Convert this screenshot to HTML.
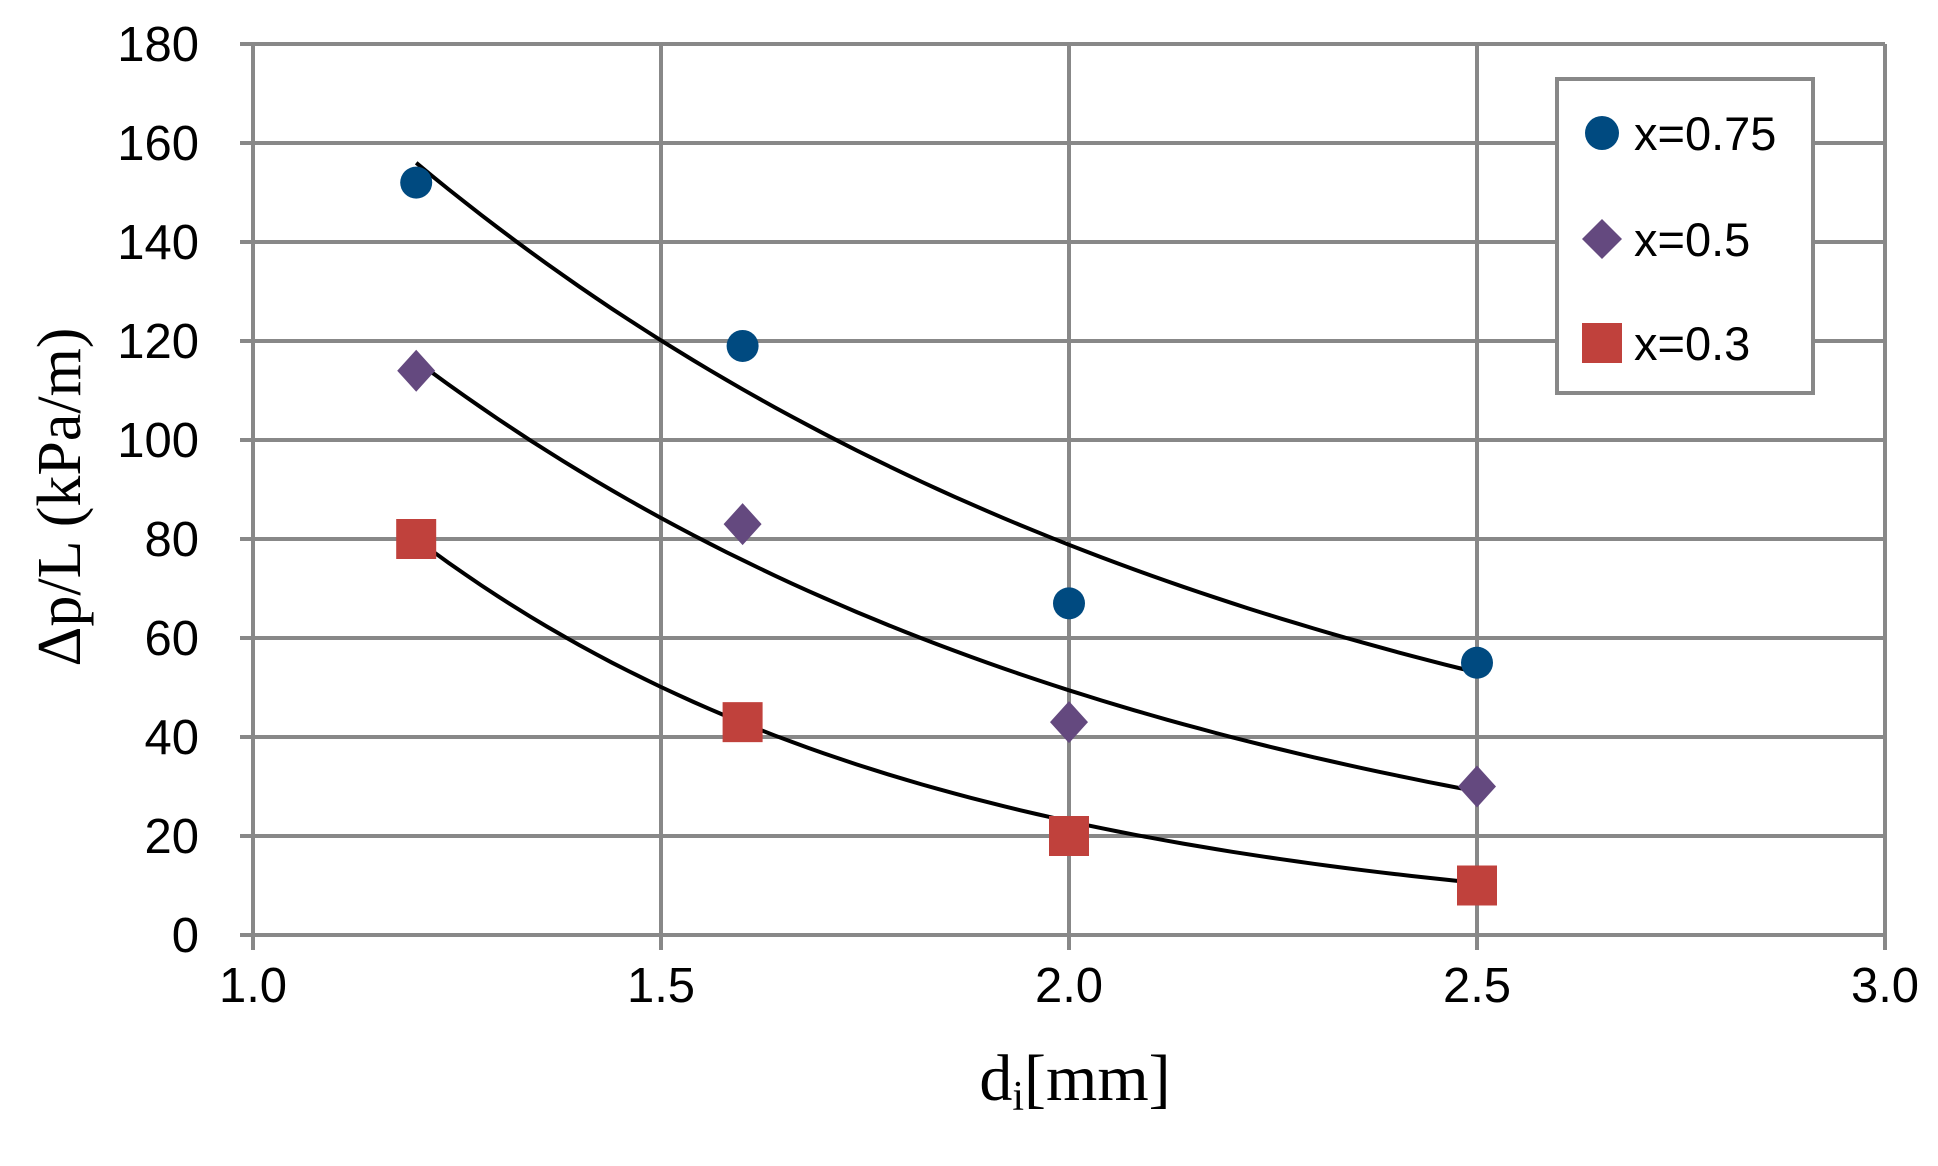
<!DOCTYPE html>
<html><head><style>body{margin:0;background:#fff}</style></head><body>
<svg id="s" width="1938" height="1161" xmlns="http://www.w3.org/2000/svg" font-family="Liberation Sans, sans-serif">
<g id="grid" stroke="#888" stroke-width="4"></g>
<g id="curves" fill="none" stroke="#000" stroke-width="4"></g>
<g id="pts"></g>
<rect x="1557" y="79" width="256" height="314" fill="#fff" stroke="#888" stroke-width="4"/>
<circle cx="1602" cy="133" r="17" fill="#004a80"/>
<polygon points="1602,219 1622,239 1602,259 1582,239" fill="#64497f"/>
<rect x="1582" y="323" width="40" height="40" fill="#c0413c"/>
<g font-size="47" fill="#000">
<text x="1634" y="150">x=0.75</text>
<text x="1634" y="256">x=0.5</text>
<text x="1634" y="360">x=0.3</text>
</g>
<g id="labels" font-size="49" fill="#000"></g>
<text x="1075" y="1100" font-family="Liberation Serif, serif" font-size="66" text-anchor="middle">d<tspan font-size="42" dy="10">i</tspan><tspan dy="-10">[mm]</tspan></text>
<text transform="translate(80,497) rotate(-90)" font-family="Liberation Serif, serif" font-size="62" text-anchor="middle">Δp/L (kPa/m)</text>
</svg>
<script>
const X=v=>253+(v-1)*816, Y=v=>935-v*4.95;
let g=document.getElementById('grid'),L=document.getElementById('labels'),h='',l='';
for(let v=0;v<=180;v+=20){h+=`<line x1="240" x2="1885" y1="${Y(v)}" y2="${Y(v)}"/>`;l+=`<text x="199" y="${Y(v)+17}" text-anchor="end">${v}</text>`;}
for(let v=1;v<=3.001;v+=0.5){h+=`<line x1="${X(v)}" x2="${X(v)}" y1="44" y2="950"/>`;l+=`<text x="${X(v)}" y="1002" text-anchor="middle">${v.toFixed(1)}</text>`;}
g.innerHTML=h;L.innerHTML=l;
let c='';
const fs=[x=>146*Math.exp(-0.94*(x-1.2))+10,x=>116*Math.exp(-1.066*(x-1.2)),x=>80*Math.exp(-1.56*(x-1.2))];
fs.forEach(f=>{let p=[];for(let x=1.2;x<=2.5001;x+=0.02)p.push(X(x).toFixed(1)+','+Y(f(x)).toFixed(1));c+=`<polyline points="${p.join(' ')}"/>`;});
document.getElementById('curves').innerHTML=c;
let s='';
[[1.2,152],[1.6,119],[2.0,67],[2.5,55]].forEach(([x,y])=>s+=`<circle cx="${X(x)}" cy="${Y(y)}" r="16" fill="#004a80"/>`);
[[1.2,114],[1.6,83],[2.0,43],[2.5,30]].forEach(([x,y])=>{let cx=X(x),cy=Y(y);s+=`<polygon points="${cx},${cy-21} ${cx+19},${cy} ${cx},${cy+21} ${cx-19},${cy}" fill="#64497f"/>`});
[[1.2,80],[1.6,43],[2.0,20],[2.5,10]].forEach(([x,y])=>s+=`<rect x="${X(x)-20}" y="${Y(y)-20}" width="40" height="40" fill="#c0413c"/>`);
document.getElementById('pts').innerHTML=s;
</script>
</body></html>
